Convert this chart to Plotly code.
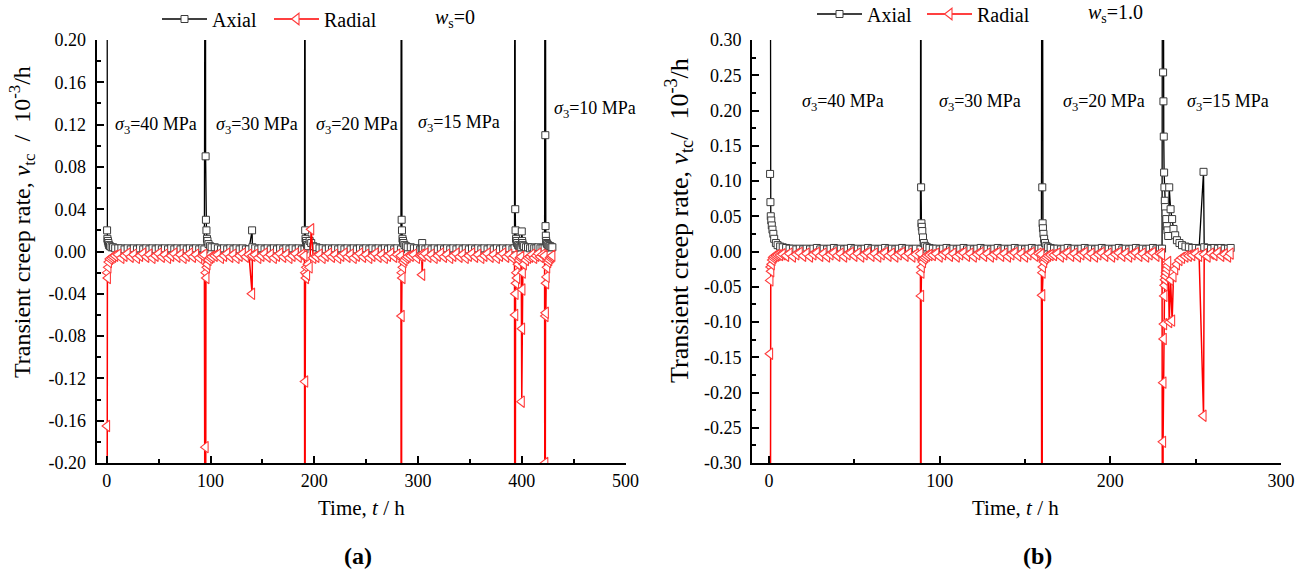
import plotly.graph_objects as go

FONT = "Liberation Serif"
W, H = 1305, 575

# =============== Panel (a): w_s = 0  (time in h, rates in 1e-3/h) ===============
# stage sigma3 = 40 MPa
t_a1 = [0, 0.2, 0.5, 1, 1.5, 2, 3, 4.5, 6, 8,
        11, 14, 17, 20, 23, 26, 29, 32, 35, 38, 41, 44, 47, 50, 53, 56, 59, 62, 65, 68,
        71, 74, 77, 80, 83, 86, 89, 92, 94]
ax_a1 = [0.60, 0.020, 0.012, 0.010, 0.008, 0.006, 0.005, 0.004, 0.004, 0.003,
         0.003, 0.003, 0.002, 0.003, 0.002, 0.003, 0.002, 0.003, 0.002, 0.003,
         0.002, 0.003, 0.002, 0.003, 0.002, 0.003, 0.002, 0.003, 0.002, 0.003,
         0.002, 0.003, 0.002, 0.003, 0.002, 0.003, 0.002, 0.003, 0.002]
rd_a1 = [-0.60, -0.165, -0.020, -0.025, -0.015, -0.010, -0.007, -0.006, -0.005, -0.004,
         -0.003, -0.006, -0.004, -0.002, -0.005, -0.003, -0.006, -0.004, -0.002, -0.005,
         -0.003, -0.006, -0.004, -0.002, -0.005, -0.003, -0.006, -0.004, -0.002, -0.005,
         -0.003, -0.006, -0.004, -0.002, -0.005, -0.003, -0.006, -0.004, -0.003]
# stage sigma3 = 30 MPa
t_a2 = [95, 95.2, 95.5, 96, 96.5, 97, 98, 99.5, 101, 104,
        107, 110, 113, 116, 119, 122, 125, 128, 131, 134, 137,
        140, 140.3,
        143, 146, 149, 152, 155, 158, 161, 164, 167, 170, 173, 176, 179, 182, 185, 188, 190.5]
ax_a2 = [0.60, 0.090, 0.030, 0.020, 0.012, 0.010, 0.007, 0.005, 0.004, 0.004,
         0.003, 0.002, 0.003, 0.002, 0.003, 0.002, 0.003, 0.002, 0.003, 0.002, 0.002,
         0.020, 0.004,
         0.003, 0.002, 0.003, 0.002, 0.003, 0.002, 0.003, 0.002, 0.003, 0.002, 0.003, 0.002, 0.003, 0.002,
         0.003, 0.002, 0.002]
rd_a2 = [-0.60, -0.185, -0.020, -0.025, -0.015, -0.012, -0.008, -0.006, -0.005, -0.004,
         -0.003, -0.006, -0.004, -0.002, -0.005, -0.003, -0.006, -0.004, -0.002, -0.005, -0.003,
         -0.040, -0.004,
         -0.003, -0.006, -0.004, -0.002, -0.005, -0.003, -0.006, -0.004, -0.002, -0.005, -0.003, -0.006,
         -0.004, -0.002, -0.005, -0.003, -0.004]
# stage sigma3 = 20 MPa
t_a3 = [191, 191.2, 191.5, 192, 192.5, 193, 194, 195.5, 197, 199,
        202, 205, 208, 211, 214, 217, 220, 223, 226, 229,
        232, 235, 238, 241, 244, 247, 250, 253, 256, 259,
        262, 265, 268, 271, 274, 277, 280, 283.5]
ax_a3 = [0.60, 0.020, 0.012, 0.010, 0.008, 0.006, 0.005, 0.010, 0.008, 0.005,
         0.004, 0.003, 0.003, 0.002, 0.003, 0.002, 0.003, 0.002, 0.003, 0.002,
         0.003, 0.002, 0.003, 0.002, 0.003, 0.002, 0.003, 0.002, 0.003, 0.002,
         0.003, 0.002, 0.003, 0.002, 0.003, 0.002, 0.003, 0.002]
rd_a3 = [-0.60, -0.123, -0.020, -0.025, -0.015, -0.022, -0.012, -0.015, 0.021, -0.006,
         -0.005, -0.003, -0.006, -0.004, -0.002, -0.005, -0.003, -0.006, -0.004, -0.002,
         -0.005, -0.003, -0.006, -0.004, -0.002, -0.005, -0.003, -0.006, -0.004, -0.002,
         -0.005, -0.003, -0.006, -0.004, -0.002, -0.005, -0.003, -0.004]
# stage sigma3 = 15 MPa
t_a4 = [284, 284.2, 284.5, 285, 285.5, 286, 287, 288.5, 290, 293,
        296, 299, 302, 303.5, 304, 304.5,
        307, 310, 313, 316, 319, 322, 325, 328, 331, 334,
        337, 340, 343, 346, 349, 352, 355, 358, 361, 364,
        367, 370, 373, 376, 379, 382, 385, 388, 391, 393]
ax_a4 = [0.60, 0.030, 0.020, 0.012, 0.010, 0.008, 0.006, 0.005, 0.004, 0.004,
         0.003, 0.003, 0.002, 0.003, 0.008, 0.003,
         0.002, 0.003, 0.002, 0.003, 0.002, 0.003, 0.002, 0.003, 0.002, 0.003,
         0.002, 0.003, 0.002, 0.003, 0.002, 0.003, 0.002, 0.003, 0.002, 0.003,
         0.002, 0.003, 0.002, 0.003, 0.002, 0.003, 0.002, 0.003, 0.002, 0.003]
rd_a4 = [-0.60, -0.061, -0.020, -0.025, -0.015, -0.010, -0.008, -0.006, -0.005, -0.004,
         -0.003, -0.006, -0.004, -0.003, -0.022, -0.004,
         -0.002, -0.005, -0.003, -0.006, -0.004, -0.002, -0.005, -0.003, -0.006, -0.004,
         -0.002, -0.005, -0.003, -0.006, -0.004, -0.002, -0.005, -0.003, -0.006, -0.004,
         -0.002, -0.005, -0.003, -0.006, -0.004, -0.002, -0.005, -0.003, -0.006, -0.004]
# deviatoric jumps before sigma3 = 10 MPa
t_a5 = [393.5, 393.7, 394, 394.5, 395, 395.5, 396.5, 397.5, 398.5, 399.5,
        400, 400.3, 400.6, 401, 402, 404, 406, 408, 410, 412,
        414, 416, 418, 420, 422]
ax_a5 = [0.60, 0.040, 0.020, 0.012, 0.010, 0.008, 0.006, 0.005, 0.004, 0.004,
         0.019, 0.010, 0.008, 0.006, 0.005, 0.004, 0.004, 0.003, 0.004, 0.003,
         0.003, 0.004, 0.003, 0.003, 0.003]
rd_a5 = [-0.60, -0.060, -0.040, -0.030, -0.020, -0.025, -0.012, -0.008, -0.006, -0.005,
         -0.142, -0.073, -0.036, -0.020, -0.012, -0.008, -0.006, -0.005, -0.003, -0.006,
         -0.004, -0.002, -0.005, -0.003, -0.004]
# stage sigma3 = 10 MPa
t_a6 = [422.5, 422.7, 422.9, 423.2, 423.5, 424, 424.5, 425.5, 426.5, 427.5, 428.5, 429.5]
ax_a6 = [0.60, 0.110, 0.024, 0.015, 0.010, 0.008, 0.007, 0.006, 0.005, 0.005, 0.004, 0.004]
rd_a6 = [-0.60, -0.200, -0.061, -0.058, -0.030, -0.024, -0.015, -0.010, -0.008, -0.006, -0.005, -0.004]

# =============== Panel (b): w_s = 1.0 ===============
t_b1 = [0.5, 0.6, 0.8, 1.0, 1.3, 1.6, 2.0, 2.5, 3.0, 4.0,
        5.0, 6.5, 8, 10, 12, 14, 16, 18, 20, 22,
        24, 26, 28, 30, 32, 34, 36, 38, 40, 42,
        44, 46, 48, 50, 52, 54, 56, 58, 60, 62,
        64, 66, 68, 70, 72, 74, 76, 78, 80, 82,
        84, 86, 88.7]
ax_b1 = [1.0, 0.110, 0.070, 0.050, 0.044, 0.037, 0.031, 0.025, 0.018, 0.012,
         0.009, 0.007, 0.006, 0.005, 0.004, 0.004, 0.003, 0.004, 0.003, 0.004,
         0.003, 0.004, 0.005, 0.003, 0.004, 0.003, 0.004, 0.005, 0.003, 0.004,
         0.003, 0.004, 0.005, 0.003, 0.004, 0.003, 0.004, 0.005, 0.003, 0.004,
         0.003, 0.004, 0.005, 0.003, 0.004, 0.003, 0.004, 0.005, 0.003, 0.004,
         0.003, 0.004, 0.003]
rd_b1 = [-1.0, -0.145, -0.041, -0.022, -0.028, -0.018, -0.012, -0.009, -0.007, -0.006,
         -0.005, -0.005, -0.004, -0.006, -0.003, -0.007, -0.004, -0.002, -0.006, -0.003,
         -0.007, -0.004, -0.002, -0.006, -0.003, -0.007, -0.004, -0.002, -0.006, -0.003,
         -0.007, -0.004, -0.002, -0.006, -0.003, -0.007, -0.004, -0.002, -0.006, -0.003,
         -0.007, -0.004, -0.002, -0.006, -0.003, -0.007, -0.004, -0.002, -0.006, -0.003,
         -0.007, -0.004, -0.003]
t_b2 = [89, 89.1, 89.3, 89.5, 89.8, 90.2, 90.7, 91.5, 92.5, 94,
        96, 98, 100, 102, 104, 106, 108, 110, 112, 114,
        116, 118, 120, 122, 124, 126, 128, 130, 132, 134,
        136, 138, 140, 142, 144, 146, 148, 150, 152, 154,
        156, 158, 159.6]
ax_b2 = [1.0, 0.091, 0.040, 0.035, 0.029, 0.020, 0.012, 0.008, 0.006, 0.005,
         0.004, 0.004, 0.003, 0.004, 0.005, 0.003, 0.004, 0.003, 0.004, 0.005,
         0.003, 0.004, 0.003, 0.004, 0.005, 0.003, 0.004, 0.003, 0.004, 0.005,
         0.003, 0.004, 0.003, 0.004, 0.005, 0.003, 0.004, 0.003, 0.004, 0.005,
         0.003, 0.004, 0.004]
rd_b2 = [-1.0, -0.063, -0.030, -0.022, -0.012, -0.015, -0.010, -0.008, -0.006, -0.005,
         -0.005, -0.003, -0.007, -0.004, -0.002, -0.006, -0.003, -0.007, -0.004, -0.002,
         -0.006, -0.003, -0.007, -0.004, -0.002, -0.006, -0.003, -0.007, -0.004, -0.002,
         -0.006, -0.003, -0.007, -0.004, -0.002, -0.006, -0.003, -0.007, -0.004, -0.002,
         -0.006, -0.003, -0.004]
t_b3 = [160, 160.1, 160.3, 160.5, 160.8, 161.2, 161.7, 162.5, 163.5, 165,
        167, 169, 171, 173, 175, 177, 179, 181, 183, 185,
        187, 189, 191, 193, 195, 197, 199, 201, 203, 205,
        207, 209, 211, 213, 215, 217, 219, 221, 223, 225,
        227, 229, 230.3]
ax_b3 = [1.0, 0.091, 0.040, 0.033, 0.025, 0.018, 0.012, 0.008, 0.006, 0.005,
         0.004, 0.004, 0.003, 0.004, 0.005, 0.003, 0.004, 0.003, 0.004, 0.005,
         0.003, 0.004, 0.003, 0.004, 0.005, 0.003, 0.004, 0.003, 0.004, 0.005,
         0.003, 0.004, 0.003, 0.004, 0.005, 0.003, 0.004, 0.003, 0.004, 0.005,
         0.003, 0.004, 0.004]
rd_b3 = [-1.0, -0.062, -0.030, -0.022, -0.012, -0.015, -0.010, -0.008, -0.006, -0.005,
         -0.005, -0.003, -0.007, -0.004, -0.002, -0.006, -0.003, -0.007, -0.004, -0.002,
         -0.006, -0.003, -0.007, -0.004, -0.002, -0.006, -0.003, -0.007, -0.004, -0.002,
         -0.006, -0.003, -0.007, -0.004, -0.002, -0.006, -0.003, -0.007, -0.004, -0.002,
         -0.006, -0.003, -0.004]
t_b4 = [230.7, 230.9, 231.1, 231.3, 231.5, 231.7, 231.9, 232.1, 232.4, 232.8,
        233.1, 233.5, 233.9, 234.5, 235.3, 236.2, 237.0, 238.0, 239.0, 240.5,
        242.0, 244.0, 246.0, 248.0, 250.0, 252.0, 254.6, 255.0, 257.0, 259.0,
        261.0, 263.0, 265.0, 267.0, 269.0, 270.5]
ax_b4 = [1.0, 0.254, 0.213, 0.163, 0.112, 0.091, 0.072, 0.063, 0.054, 0.046,
         0.036, 0.030, 0.022, 0.091, 0.060, 0.046, 0.032, 0.023, 0.016, 0.012,
         0.009, 0.007, 0.006, 0.005, 0.005, 0.004, 0.113, 0.006, 0.005, 0.004,
         0.005, 0.004, 0.005, 0.004, 0.004, 0.005]
rd_b4 = [-1.0, -0.270, -0.186, -0.124, -0.103, -0.063, -0.048, -0.040, -0.035, -0.030,
         -0.025, -0.020, -0.015, -0.100, -0.040, -0.098, -0.035, -0.025, -0.018, -0.012,
         -0.009, -0.007, -0.006, -0.005, -0.003, -0.006, -0.233, -0.004, -0.007, -0.003,
         -0.005, -0.002, -0.006, -0.004, -0.007, -0.003]

stages_a = [(t_a1, ax_a1, rd_a1), (t_a2, ax_a2, rd_a2), (t_a3, ax_a3, rd_a3),
            (t_a4, ax_a4, rd_a4), (t_a5, ax_a5, rd_a5), (t_a6, ax_a6, rd_a6)]
stages_b = [(t_b1, ax_b1, rd_b1), (t_b2, ax_b2, rd_b2), (t_b3, ax_b3, rd_b3), (t_b4, ax_b4, rd_b4)]
for i, (tt, aa, rr) in enumerate(stages_a + stages_b):
    assert len(tt) == len(aa) == len(rr), (i, len(tt), len(aa), len(rr))

t_a, axial_a, radial_a = [], [], []
for tt, aa, rr in stages_a:
    t_a += tt
    axial_a += aa
    radial_a += rr
t_b, axial_b, radial_b = [], [], []
for tt, aa, rr in stages_b:
    t_b += tt
    axial_b += aa
    radial_b += rr

# tick labels
ytick_a = [-0.20, -0.16, -0.12, -0.08, -0.04, 0.0, 0.04, 0.08, 0.12, 0.16, 0.20]
ytext_a = ["-0.20", "-0.16", "-0.12", "-0.08", "-0.04", "0.00", "0.04", "0.08", "0.12", "0.16", "0.20"]
ytick_b = [-0.30, -0.25, -0.20, -0.15, -0.10, -0.05, 0.0, 0.05, 0.10, 0.15, 0.20, 0.25, 0.30]
ytext_b = ["-0.30", "-0.25", "-0.20", "-0.15", "-0.10", "-0.05", "0.00", "0.05", "0.10", "0.15", "0.20",
           "0.25", "0.30"]

# stage labels: (sigma_3 text, time, value)
labels_a = [("40", 47, 0.119), ("30", 144.6, 0.119), ("20", 241, 0.119), ("15", 339, 0.121), ("10", 470.6, 0.134)]
labels_b = [("40", 43.2, 0.212), ("30", 123.5, 0.212), ("20", 196.3, 0.212), ("15", 269, 0.212)]

AX_COL = "black"
AX_MK = "#3a3a3a"
RD_COL = "#ff0000"
RD_MK = "#ff3c3c"

fig = go.Figure()


def add_panel(t, ax, rd, xa, ya, leg):
    fig.add_trace(go.Scatter(
        x=t, y=ax, mode="lines+markers", name="Axial", xaxis=xa, yaxis=ya, legend=leg,
        line=dict(color=AX_COL, width=1.3),
        marker=dict(symbol="square", size=7, color="white", line=dict(color=AX_MK, width=1)),
    ))
    fig.add_trace(go.Scatter(
        x=t, y=rd, mode="lines+markers", name="Radial", xaxis=xa, yaxis=ya, legend=leg,
        line=dict(color=RD_COL, width=1.5),
        marker=dict(symbol="triangle-left", size=10, color="white", line=dict(color=RD_MK, width=1.1)),
    ))


add_panel(t_a, axial_a, radial_a, "x", "y", "legend")
add_panel(t_b, axial_b, radial_b, "x2", "y2", "legend2")

tickfont = dict(family=FONT, size=18, color="black")
ydom = [1 - 463 / H, 1 - 40 / H]


def xaxis(domain, rng, dtick, minor, anchor):
    return dict(domain=domain, range=rng, anchor=anchor, dtick=dtick, tick0=0,
                ticks="inside", ticklen=7, tickwidth=2, tickcolor="black",
                showline=True, linecolor="black", linewidth=2, showgrid=False, zeroline=False,
                tickfont=tickfont, automargin=False,
                minor=dict(tickmode="linear", tick0=0, dtick=minor, ticks="inside", ticklen=4,
                           tickwidth=2, tickcolor="black", showgrid=False))


def yaxis(rng, vals, texts, minor, anchor):
    return dict(domain=ydom, range=rng, anchor=anchor, tickmode="array", tickvals=vals, ticktext=texts,
                ticks="inside", ticklen=7, tickwidth=2, tickcolor="black",
                showline=True, linecolor="black", linewidth=2, showgrid=False, zeroline=False,
                tickfont=tickfont, ticklabelstandoff=5, automargin=False,
                minor=dict(tickmode="linear", tick0=0, dtick=minor, ticks="inside", ticklen=4,
                           tickwidth=2, tickcolor="black", showgrid=False))


fig.update_layout(
    width=W, height=H, margin=dict(l=0, r=0, t=0, b=0, autoexpand=False),
    paper_bgcolor="white", plot_bgcolor="white",
    xaxis=xaxis([96.5 / W, 625.5 / W], [-10, 500], 100, 50, "y"),
    yaxis=yaxis([-0.2, 0.2], ytick_a, ytext_a, 0.02, "x"),
    xaxis2=xaxis([752 / W, 1281 / W], [-10, 300], 100, 50, "y2"),
    yaxis2=yaxis([-0.3, 0.3], ytick_b, ytext_b, 0.025, "x2"),
    showlegend=True,
    legend=dict(orientation="h", x=157 / W, y=1 - 19 / H, xanchor="left", yanchor="middle",
                font=dict(family=FONT, size=20, color="black"), bgcolor="rgba(0,0,0,0)", itemwidth=45,
                entrywidth=52),
    legend2=dict(orientation="h", x=812 / W, y=1 - 14 / H, xanchor="left", yanchor="middle",
                 font=dict(family=FONT, size=20, color="black"), bgcolor="rgba(0,0,0,0)", itemwidth=45,
                 entrywidth=50),
)

ann = []
for txt, x, y in labels_a:
    ann.append(dict(text="<i>σ</i><sub>3</sub>=%s MPa" % txt, x=x, y=y, xref="x", yref="y", showarrow=False,
                    font=dict(family=FONT, size=18, color="black"), xanchor="center", yanchor="middle"))
for txt, x, y in labels_b:
    ann.append(dict(text="<i>σ</i><sub>3</sub>=%s MPa" % txt, x=x, y=y, xref="x2", yref="y2", showarrow=False,
                    font=dict(family=FONT, size=18, color="black"), xanchor="center", yanchor="middle"))

ann += [
    dict(text="<i>w</i><sub>s</sub>=0", x=455 / W, y=1 - 19 / H, xref="paper", yref="paper", showarrow=False,
         font=dict(family=FONT, size=20, color="black"), xanchor="center", yanchor="middle"),
    dict(text="<i>w</i><sub>s</sub>=1.0", x=1115 / W, y=1 - 14 / H, xref="paper", yref="paper", showarrow=False,
         font=dict(family=FONT, size=20, color="black"), xanchor="center", yanchor="middle"),
    dict(text="Time, <i>t</i> / h", x=361 / W, y=1 - 508 / H, xref="paper", yref="paper", showarrow=False,
         font=dict(family=FONT, size=21, color="black"), xanchor="center", yanchor="middle"),
    dict(text="Time, <i>t</i> / h", x=1016 / W, y=1 - 508 / H, xref="paper", yref="paper", showarrow=False,
         font=dict(family=FONT, size=21, color="black"), xanchor="center", yanchor="middle"),
    dict(text="Transient creep rate, <i>v</i><sub>tc</sub>  /  10<sup>-3</sup>/h", x=22 / W, y=1 - 222 / H,
         xref="paper", yref="paper", showarrow=False, textangle=-90,
         font=dict(family=FONT, size=24, color="black"), xanchor="center", yanchor="middle"),
    dict(text="Transient creep rate, <i>v</i><sub>tc</sub>/  10<sup>-3</sup>/h", x=679 / W, y=1 - 221 / H,
         xref="paper", yref="paper", showarrow=False, textangle=-90,
         font=dict(family=FONT, size=26, color="black"), xanchor="center", yanchor="middle"),
    dict(text="<b>(a)</b>", x=358 / W, y=1 - 556 / H, xref="paper", yref="paper", showarrow=False,
         font=dict(family=FONT, size=24, color="black"), xanchor="center", yanchor="middle"),
    dict(text="<b>(b)</b>", x=1037 / W, y=1 - 556 / H, xref="paper", yref="paper", showarrow=False,
         font=dict(family=FONT, size=24, color="black"), xanchor="center", yanchor="middle"),
]
fig.update_layout(annotations=ann)

fig.write_html("out.html")
